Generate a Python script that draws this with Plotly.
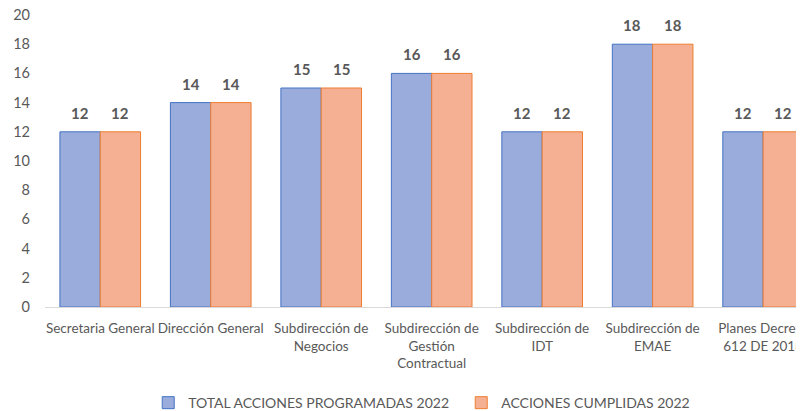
import plotly.graph_objects as go

categories = [
    "Secretaria General",
    "Dirección General",
    "Subdirección de<br>Negocios",
    "Subdirección de<br>Gestión<br>Contractual",
    "Subdirección de<br>IDT",
    "Subdirección de<br>EMAE",
    "Planes Decreto<br>612 DE 2018",
]
programadas = [12, 14, 15, 16, 12, 18, 12]
cumplidas = [12, 14, 15, 16, 12, 18, 12]
y_ticks = [0, 2, 4, 6, 8, 10, 12, 14, 16, 18, 20]

grey = "#595959"
font = "Lato, 'Open Sans', sans-serif"
bargap = 0.27

fig = go.Figure()
fig.add_trace(go.Bar(
    x=categories, y=programadas, name="TOTAL ACCIONES PROGRAMADAS 2022",
    marker=dict(color="#9aacdb", line=dict(color="#4472c4", width=1)),
))
fig.add_trace(go.Bar(
    x=categories, y=cumplidas, name="ACCIONES CUMPLIDAS 2022",
    marker=dict(color="#f5b093", line=dict(color="#ed7d31", width=1)),
))

# value labels sit well above the bars, so use annotations with a shift
half = (1 - bargap) / 4
for i, (a, b) in enumerate(zip(programadas, cumplidas)):
    for dx, v in ((-half, a), (half, b)):
        fig.add_annotation(x=i + dx, y=v, text=str(v), showarrow=False,
                           yanchor="middle", yshift=19,
                           font=dict(size=15, color=grey, family=font,
                                     weight="bold"))

# the page body has an 8px margin, so the figure is sized to fit the window
fig.update_layout(
    width=796, height=403,
    margin=dict(l=37, r=0, t=7, b=104, autoexpand=False),
    paper_bgcolor="white", plot_bgcolor="white",
    font=dict(family=font, size=13.5, color=grey),
    barmode="group", bargap=bargap, bargroupgap=0,
    legend=dict(orientation="h", x=0.136, xanchor="left",
                y=-0.329, yanchor="middle", font=dict(size=14),
                bgcolor="rgba(0,0,0,0)",
                entrywidth=268, entrywidthmode="pixels"),
)
fig.update_xaxes(range=[-0.5, 6.37], showline=True, linecolor="#d9d9d9",
                 linewidth=1, showgrid=False, ticks="", automargin=False,
                 ticklabelstandoff=9)
fig.update_yaxes(range=[0, 20], tickvals=y_ticks, showgrid=False,
                 zeroline=False, showline=False, automargin=False,
                 ticklabeloverflow="allow",
                 tickfont=dict(size=14.5), ticklabelstandoff=14)

fig.write_html("out.html")
